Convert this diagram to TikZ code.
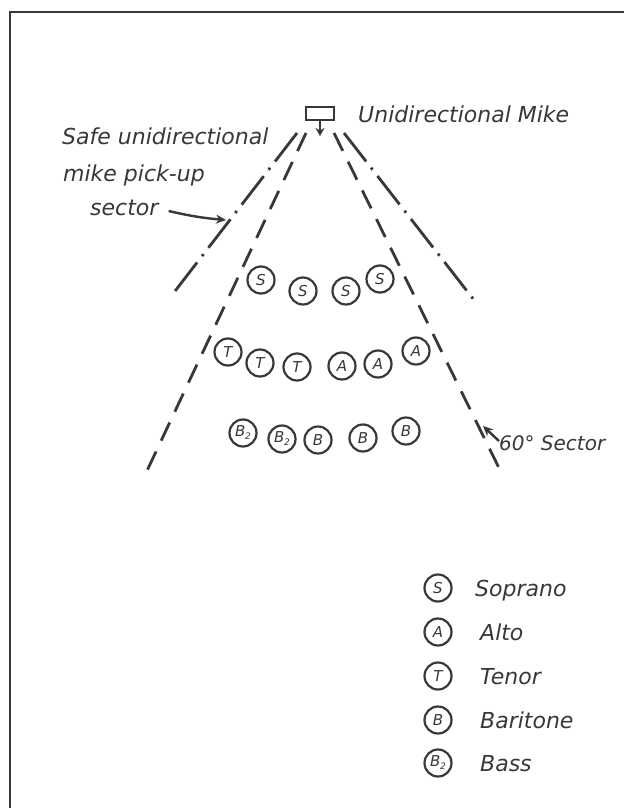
\documentclass[tikz,border=0pt]{standalone}
\usepackage{fontspec}
\setmainfont{DejaVu Sans}
\usetikzlibrary{arrows.meta}
\definecolor{ink}{HTML}{383838}
\newcommand{\myBtwo}{B\kern-0.5pt\raisebox{-3pt}{\fontsize{9}{9}\selectfont 2}}
\begin{document}
\begin{tikzpicture}[x=1pt,y=-1pt,
  every node/.style={text=ink},
  lbl/.style={font=\fontsize{22}{26}\selectfont\itshape, anchor=base west, inner sep=0pt},
  singer/.style={circle, draw=ink, line width=2.2pt, minimum size=27pt, inner sep=0pt, font=\fontsize{15}{15}\selectfont\itshape},
  sectorline/.style={draw=ink, line width=2.8pt, dash pattern=on 20pt off 12pt},
  safeline/.style={draw=ink, line width=2.8pt, dash pattern=on 36pt off 8pt on 2.5pt off 8pt},
  frameline/.style={draw=ink, line width=2.6pt},
  pointer/.style={draw=ink, line width=2.4pt, -{Stealth[length=10pt,width=9pt]}}
]
\fill[white] (0,0) rectangle (624,808);
\useasboundingbox (0,0) rectangle (624,808);

% frame
\coordinate (fBL) at (10,808);
\coordinate (fTL) at (10,12);
\coordinate (fTR) at (624,12);
\draw[frameline] (fBL) -- (fTL) -- (fTR);

% microphone
\node[draw=ink, line width=2.2pt, minimum width=28pt, minimum height=13pt, inner sep=0pt] (mike) at (320,113.5) {};
\coordinate (mtip) at (320,136);
\draw[ink, line width=2.2pt, -{Stealth[length=8pt,width=9pt]}] (mike.south) -- (mtip);
\node[lbl] (mikelbl) at (358,122) {Unidirectional Mike};

% sector lines
\coordinate (dl0) at (297,133);
\coordinate (dl1) at (172,295);
\coordinate (dr0) at (344,133);
\coordinate (dr1) at (474,300);
\coordinate (sl0) at (306,133);
\coordinate (sl1) at (145,475);
\coordinate (sr0) at (334,133);
\coordinate (sr1) at (500,470);
\draw[safeline] (dl0) -- (dl1);
\draw[safeline] (dr0) -- (dr1);
\draw[sectorline] (sl0) -- (sl1);
\draw[sectorline] (sr0) -- (sr1);

% left label
\node[lbl] (safe1) at (62,144) {Safe unidirectional};
\node[lbl] (safe2) at (63,181) {mike pick-up};
\node[lbl] (safe3) at (90,215) {sector};
\coordinate (safetip) at (226,220);
\draw[pointer] ([xshift=10pt,yshift=4pt]safe3.base east) to[bend right=4] (safetip);

% 60 degree label
\node[lbl, font=\fontsize{20}{24}\selectfont\itshape] (sec60) at (499,450) {60° Sector};
\coordinate (sectip) at (483,426);
\draw[pointer] ([yshift=9pt]sec60.base west) -- (sectip);

% sopranos
\node[singer] (s1) at (261,280) {S};
\node[singer] (s2) at (303,291) {S};
\node[singer] (s3) at (346,291) {S};
\node[singer] (s4) at (380,279) {S};
% tenors and altos
\node[singer] (t1) at (228,352) {T};
\node[singer] (t2) at (260,363) {T};
\node[singer] (t3) at (297,367) {T};
\node[singer] (a1) at (342,366) {A};
\node[singer] (a2) at (378,364) {A};
\node[singer] (a3) at (416,351) {A};
% basses and baritones
\node[singer] (bb1) at (243,433) {\myBtwo};
\node[singer] (bb2) at (282,439) {\myBtwo};
\node[singer] (b1) at (318,440) {B};
\node[singer] (b2) at (363,438) {B};
\node[singer] (b3) at (406,431) {B};

% legend
\node[singer] (ls) at (438,588) {S};
\node[singer] (la) at (438,632) {A};
\node[singer] (lt) at (438,676) {T};
\node[singer] (lb) at (438,720) {B};
\node[singer] (lbb) at (438,763) {\myBtwo};
\node[lbl] (lsl) at (475,596) {Soprano};
\node[lbl] (lal) at (480,640) {Alto};
\node[lbl] (ltl) at (480,684) {Tenor};
\node[lbl] (lbl1) at (480,728) {Baritone};
\node[lbl] (lbbl) at (480,771) {Bass};
\end{tikzpicture}
\end{document}
